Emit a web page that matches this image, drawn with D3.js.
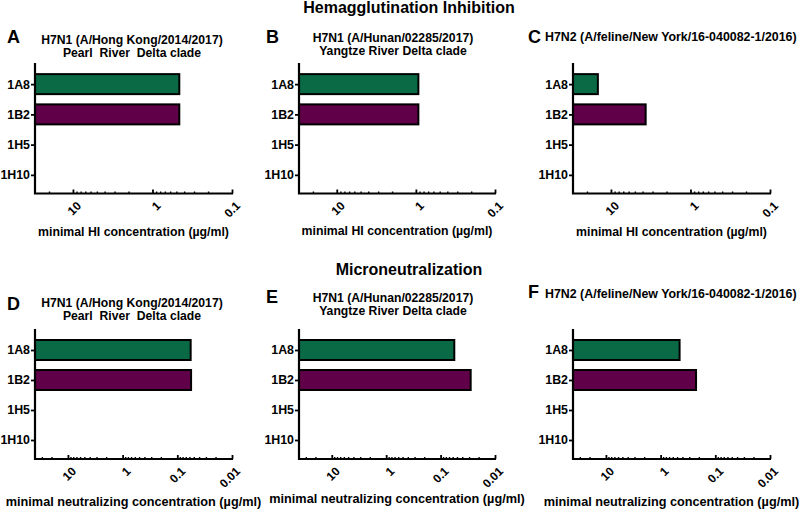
<!DOCTYPE html>
<html><head><meta charset="utf-8">
<script src="https://cdn.jsdelivr.net/npm/d3@7"></script>
<style>
body{margin:0;background:#fff;}
svg{display:block;font-family:"Liberation Sans",Arial,sans-serif;font-weight:bold;}
</style></head>
<body><svg id="c" width="800" height="512"></svg>
<script>
const categories = ["1A8","1B2","1H5","1H10"];
const sectionTitles = ["Hemagglutination Inhibition","Microneutralization"];
const panelLetters = ["A","B","C","D","E","F"];
const panelTitles = [
  ["H7N1 (A/Hong Kong/2014/2017)","Pearl  River  Delta clade"],
  ["H7N1 (A/Hunan/02285/2017)","Yangtze River Delta clade"],
  ["H7N2 (A/feline/New York/16-040082-1/2016)"],
  ["H7N1 (A/Hong Kong/2014/2017)","Pearl  River  Delta clade"],
  ["H7N1 (A/Hunan/02285/2017)","Yangtze River Delta clade"],
  ["H7N2 (A/feline/New York/16-040082-1/2016)"]
];
const axisTitles = ["minimal HI concentration (µg/ml)","minimal neutralizing concentration (µg/ml)"];
// values (µg/ml); null = not detected
const hiHongKong = [0.46, 0.46, null, null];
const hiHunan    = [0.93, 0.93, null, null];
const hiFeline   = [14.6, 3.66, null, null];
const mnHongKong = [0.057, 0.056, null, null];
const mnHunan    = [0.056, 0.028, null, null];
const mnFeline   = [0.45, 0.225, null, null];
const hiTicks = [10, 1, 0.1];
const hiTickLabels = ["10","1","0.1"];
const mnTicks = [10, 1, 0.1, 0.01];
const mnTickLabels = ["10","1","0.1","0.01"];
const hiDomain = [30, 0.1];
const mnDomain = [40, 0.01];
const barColors = ["#0b6a46","#5f0049"];

const svg = d3.select("#c");
const series = [hiHongKong, hiHunan, hiFeline, mnHongKong, mnHunan, mnFeline];

// layout
const colLeft = [35, 299, 573], colRight = [232, 495, 770];
const rows = [
  {axisTop:63, axisY:193.5, yRange:[69,190], domain:hiDomain, ticks:hiTicks, labels:hiTickLabels,
   title:sectionTitles[0], titleY:13, axisTitle:axisTitles[0], axisTitleY:[236,235,236], atSize:12.3,
   letterY:[43,43,43], t1Y:[44,42,41], t2Y:[57,55,0]},
  {axisTop:329, axisY:459, yRange:[335,455], domain:mnDomain, ticks:mnTicks, labels:mnTickLabels,
   title:sectionTitles[1], titleY:275, axisTitle:axisTitles[1], axisTitleY:[506,503,506], atSize:12.7,
   letterY:[310,303,298], t1Y:[307,302,298], t2Y:[320,315,0]}
];
const letterX = [7, 266, 528];
const titleCX = [132, 393, 671];

rows.forEach((r, ri) => {
  svg.append("text").attr("x", 409).attr("y", r.titleY).attr("text-anchor","middle")
     .attr("font-size", 16).text(r.title);
  for (let ci = 0; ci < 3; ci++) {
    const pi = ri*3 + ci;
    const g = svg.append("g");
    const x = d3.scaleLog().domain(r.domain).range([colLeft[ci], colRight[ci]]);
    const y = d3.scalePoint().domain(categories).range(r.yRange).padding(0.5);
    g.append("text").attr("x", letterX[ci]).attr("y", r.letterY[ci]).attr("font-size", 18).text(panelLetters[pi]);
    const tl = panelTitles[pi];
    if (tl.length === 1) {
      g.append("text").attr("x", 545).attr("y", r.t1Y[ci]).attr("font-size", 12.4).text(tl[0]);
    } else {
      g.append("text").attr("x", titleCX[ci]).attr("y", r.t1Y[ci]).attr("text-anchor","middle").attr("font-size", 12.2).text(tl[0]);
      g.append("text").attr("x", titleCX[ci]).attr("y", r.t2Y[ci]).attr("text-anchor","middle").attr("font-size", 12.2).style("white-space","pre").text(tl[1]);
    }
    const vals = series[pi];
    g.selectAll("rect.bar").data(categories.map((c,i)=>({c, v:vals[i], i})).filter(d=>d.v!=null))
      .join("rect").attr("class","bar")
      .attr("x", x(r.domain[0]))
      .attr("width", d => x(d.v) - x(r.domain[0]))
      .attr("y", d => y(d.c) - 10).attr("height", 20)
      .attr("fill", d => barColors[d.i]).attr("stroke","#000").attr("stroke-width",2);
    const ya = g.append("g").attr("transform", `translate(${x(r.domain[0])},0)`)
      .call(d3.axisLeft(y).tickSize(4).tickPadding(1));
    ya.select(".domain").remove();
    ya.selectAll("line").attr("stroke-width",1.8);
    ya.selectAll("text").attr("font-size",12.4).attr("font-family",null).attr("fill","#000");
    const minor = [];
    const lo = Math.min(...r.domain), hi = Math.max(...r.domain);
    for (let e = Math.floor(Math.log10(lo)); e <= Math.ceil(Math.log10(hi)); e++) {
      for (let m = 2; m <= 9; m++) { const v = m*Math.pow(10,e); if (v>lo && v<hi) minor.push(v); }
    }
    const xm = g.append("g").attr("transform", `translate(0,${r.axisY})`)
      .call(d3.axisBottom(x).tickValues(minor).tickSize(-2).tickFormat(""));
    xm.select(".domain").remove();
    xm.selectAll("line").attr("stroke-width",1.4);
    const xa = g.append("g").attr("transform", `translate(0,${r.axisY})`)
      .call(d3.axisBottom(x).tickValues(r.ticks).tickSize(-4).tickFormat(""));
    xa.select(".domain").remove();
    xa.selectAll("line").attr("stroke-width",1.8);
    g.selectAll("text.tl").data(r.ticks).join("text").attr("class","tl")
      .attr("transform", (d) => `translate(${x(d)+3},${r.axisY+7}) rotate(-45)`)
      .attr("text-anchor","end").attr("dy","0.7em").attr("font-size",12)
      .text((d,i)=>r.labels[i]);
    g.append("path").attr("d", `M${x(r.domain[0])},${r.axisTop}V${r.axisY}H${x(r.domain[1])+1}`)
      .attr("fill","none").attr("stroke","#000").attr("stroke-width",2.2);
    g.append("text").attr("x", (colLeft[ci]+colRight[ci])/2).attr("y", r.axisTitleY[ci])
      .attr("text-anchor","middle").attr("font-size",r.atSize).text(r.axisTitle);
  }
});
</script></body></html>
